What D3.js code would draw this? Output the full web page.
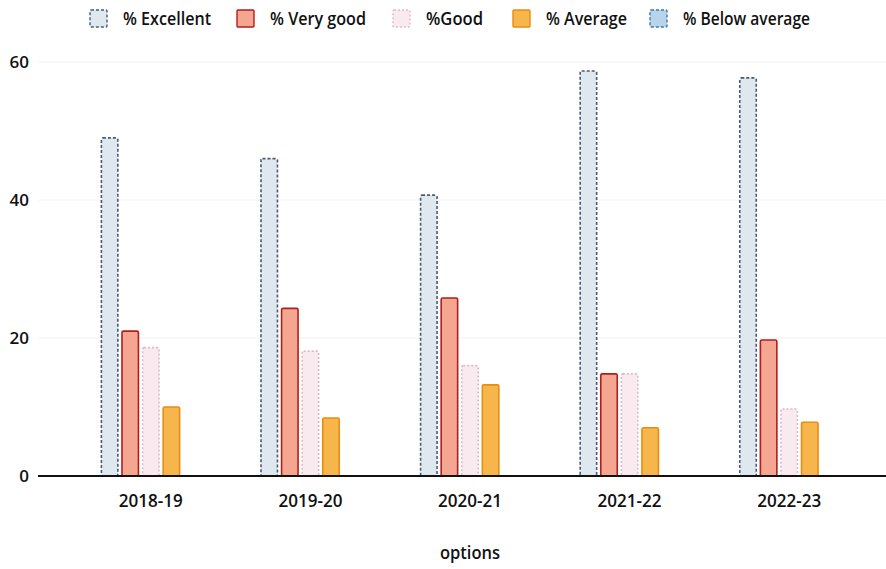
<!DOCTYPE html>
<html><head><meta charset="utf-8">
<script src="https://cdn.jsdelivr.net/npm/d3@7"></script>
<style>html,body{margin:0;padding:0;background:#fff;}svg{display:block;}</style>
</head><body>
<svg id="chart" width="886" height="569"></svg>
<script>
const categories = ["2018-19", "2019-20", "2020-21", "2021-22", "2022-23"];
const seriesNames = ["% Excellent", "% Very good", "%Good", "% Average", "% Below average"];
const excellent = [49, 46, 40.7, 58.7, 57.7];
const veryGood = [21, 24.3, 25.8, 14.8, 19.7];
const good = [18.6, 18.1, 16, 14.8, 9.7];
const average = [10, 8.4, 13.2, 7, 7.8];
const belowAverage = [0, 0, 0, 0, 0];
const yTicks = [0, 20, 40, 60];
const xTitle = "options";

const FONT = "'Open Sans', sans-serif";
const seriesValues = [excellent, veryGood, good, average, belowAverage];
const fills = ["#e0e8ef", "#f4a690", "#f8eaee", "#f7b64c", "#b6d4ea"];
const strokes = ["#4b5a70", "#b01e1e", "#dcbcc6", "#e88c12", "#3c78ae"];
const dashes = ["3,2", null, "2,2", null, "3,2"];
const legendX = [90, 237, 393, 513, 650];
const legendTextW = [88, 96, 57, 81, 127];

const svg = d3.select("#chart");
const margin = {left: 71, right: 17, top: 62, bottom: 93};
const W = 886, H = 569;
const x0 = d3.scaleBand().domain(categories).range([margin.left, W - margin.right]).paddingInner(0).paddingOuter(0);
const x1 = d3.scaleBand().domain(seriesNames)
  .range([0, x0.bandwidth() * 0.645]).paddingInner(0.2).paddingOuter(0.1);
const y = d3.scaleLinear().domain([0, 60]).range([H - margin.bottom, margin.top]);

// grid
svg.append("g").selectAll("line").data(yTicks.slice(1)).join("line")
  .attr("x1", 38).attr("x2", W).attr("y1", d => y(d)).attr("y2", d => y(d))
  .attr("stroke", "#f2f2f2").attr("stroke-width", 1);

// y axis
const yAxis = svg.append("g").attr("transform", `translate(31,0)`)
  .call(d3.axisLeft(y).tickValues(yTicks).tickSize(0).tickPadding(2));
yAxis.select(".domain").remove();
yAxis.selectAll("text").attr("font-family", FONT).attr("font-size", 17)
  .attr("font-weight", 600).attr("fill", "#111");

// bars
const groups = svg.append("g").selectAll("g").data(categories).join("g")
  .attr("transform", d => `translate(${x0(d) + (x0.bandwidth() - x1.range()[1]) / 2},0)`);
groups.selectAll("rect").data((c, i) => seriesNames.map((s, j) => ({s, j, v: seriesValues[j][i]})))
  .join("rect")
  .filter(d => d.v > 0)
  .attr("x", d => x1(d.s)).attr("width", x1.bandwidth())
  .attr("y", d => y(d.v)).attr("height", d => y(0) - y(d.v))
  .attr("rx", 1.5)
  .attr("fill", d => fills[d.j]).attr("stroke", d => strokes[d.j])
  .attr("stroke-width", 1.6)
  .attr("stroke-dasharray", d => dashes[d.j]);

// x axis
const xAxis = svg.append("g").attr("transform", `translate(0,${y(0)})`)
  .call(d3.axisBottom(x0).tickSize(0).tickPadding(0));
xAxis.select(".domain").remove();
xAxis.selectAll("text").attr("dy", null).attr("y", 31)
  .attr("font-family", FONT).attr("font-size", 18)
  .attr("font-weight", 600).attr("fill", "#111")
  .attr("textLength", 64).attr("lengthAdjust", "spacingAndGlyphs");
svg.append("line").attr("x1", 38).attr("x2", W).attr("y1", y(0)).attr("y2", y(0))
  .attr("stroke", "#111").attr("stroke-width", 2.2);

// x title
svg.append("text").attr("x", 470).attr("y", 559)
  .attr("text-anchor", "middle").attr("font-family", FONT)
  .attr("font-size", 18).attr("font-weight", 600).attr("fill", "#111")
  .attr("textLength", 60).attr("lengthAdjust", "spacingAndGlyphs").text(xTitle);

// legend
const lg = svg.append("g").selectAll("g").data(seriesNames).join("g")
  .attr("transform", (d, i) => `translate(${legendX[i]},10)`);
lg.append("rect").attr("width", 17).attr("height", 17).attr("rx", 1)
  .attr("fill", (d, i) => fills[i]).attr("stroke", (d, i) => strokes[i])
  .attr("stroke-width", 1.4).attr("stroke-dasharray", (d, i) => dashes[i]);
lg.append("text").attr("x", 33).attr("y", 15)
  .attr("font-family", FONT).attr("font-size", 18)
  .attr("font-weight", 600).attr("fill", "#111")
  .attr("textLength", (d, i) => legendTextW[i]).attr("lengthAdjust", "spacingAndGlyphs")
  .text(d => d);
</script>
</body></html>
